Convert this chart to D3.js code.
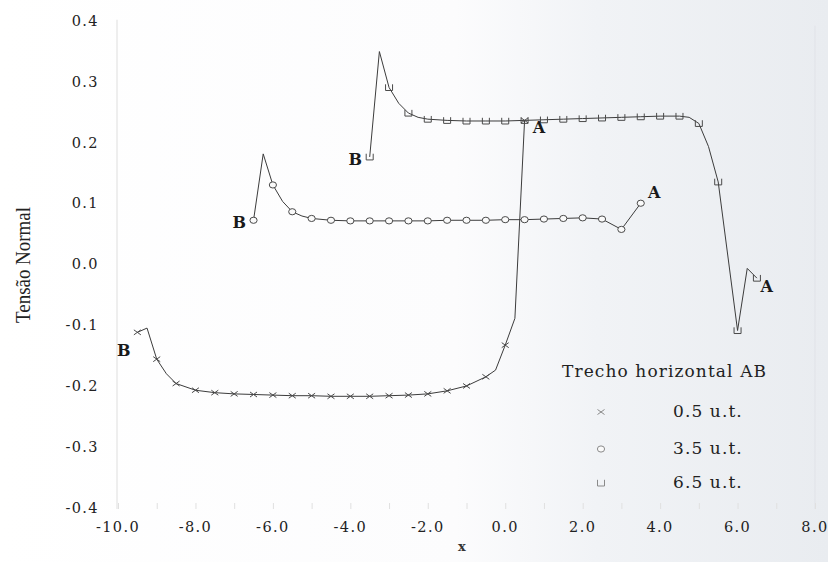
<!DOCTYPE html>
<html>
<head>
<meta charset="utf-8">
<script src="https://cdnjs.cloudflare.com/ajax/libs/d3/7.8.5/d3.min.js"></script>
<style>
  html, body { margin: 0; padding: 0; background: #ffffff; }
  svg { display: block; }
</style>
</head>
<body>
<svg id="chart" width="828" height="562"></svg>
<script>
// Axis ticks
const xTicks = [-10, -8, -6, -4, -2, 0, 2, 4, 6, 8];
const yTicks = [-0.4, -0.3, -0.2, -0.1, 0.0, 0.1, 0.2, 0.3, 0.4];

// Trecho horizontal AB = 0.5 u.t.
const xs05 = [-9.5, -9.25, -9.0, -8.75, -8.5, -8.0, -7.5, -7.0, -6.5, -6.0, -5.5, -5.0, -4.5, -4.0, -3.5, -3.0, -2.5, -2.0, -1.5, -1.0, -0.5, -0.25, 0.0, 0.25, 0.5];
const ys05 = [-0.110, -0.103, -0.154, -0.178, -0.194, -0.205, -0.209, -0.211, -0.212, -0.213, -0.214, -0.214, -0.215, -0.215, -0.215, -0.214, -0.213, -0.211, -0.206, -0.198, -0.183, -0.172, -0.131, -0.087, 0.238];

// Trecho horizontal AB = 3.5 u.t.
const xs35 = [-6.5, -6.25, -6.0, -5.75, -5.5, -5.25, -5.0, -4.5, -4.0, -3.5, -3.0, -2.5, -2.0, -1.5, -1.0, -0.5, 0.0, 0.5, 1.0, 1.5, 2.0, 2.5, 3.0, 3.5];
const ys35 = [0.074, 0.183, 0.132, 0.105, 0.088, 0.081, 0.077, 0.074, 0.073, 0.073, 0.073, 0.073, 0.073, 0.074, 0.074, 0.074, 0.075, 0.075, 0.076, 0.077, 0.078, 0.076, 0.059, 0.102];

// Trecho horizontal AB = 6.5 u.t.
const xs65 = [-3.5, -3.25, -3.0, -2.75, -2.5, -2.25, -2.0, -1.5, -1.0, -0.5, 0.0, 0.5, 1.0, 1.5, 2.0, 2.5, 3.0, 3.5, 4.0, 4.5, 4.75, 5.0, 5.25, 5.5, 6.0, 6.25, 6.5];
const ys65 = [0.178, 0.351, 0.292, 0.266, 0.250, 0.243, 0.240, 0.238, 0.237, 0.237, 0.237, 0.238, 0.239, 0.240, 0.241, 0.242, 0.243, 0.244, 0.245, 0.245, 0.243, 0.233, 0.195, 0.137, -0.107, -0.005, -0.021];

const legendTitle = "Trecho horizontal AB";
const seriesNames = ["0.5 u.t.", "3.5 u.t.", "6.5 u.t."];
const markerKinds = ["cross", "circle", "cup"];

// End-point labels (letter, x, y in data units)
const endLabels = [
  { t: "B", x: -9.85, y: -0.142 },
  { t: "A", x: 0.87, y: 0.224 },
  { t: "B", x: -6.87, y: 0.068 },
  { t: "A", x: 3.85, y: 0.118 },
  { t: "B", x: -3.87, y: 0.172 },
  { t: "A", x: 6.75, y: -0.037 }
];

const svg = d3.select("#chart");
const W = 828, H = 562;

// Paper tone, slightly greyer towards the right
const defs = svg.append("defs");
const grad = defs.append("linearGradient").attr("id", "paper").attr("x1", "0").attr("x2", "1").attr("y1", "0").attr("y2", "0");
grad.append("stop").attr("offset", "0%").attr("stop-color", "#ffffff");
grad.append("stop").attr("offset", "55%").attr("stop-color", "#fcfcfd");
grad.append("stop").attr("offset", "72%").attr("stop-color", "#f1f3f6");
grad.append("stop").attr("offset", "100%").attr("stop-color", "#e9ecf0");
svg.append("rect").attr("width", W).attr("height", H).attr("fill", "url(#paper)");

const x = d3.scaleLinear().domain([-10, 8]).range([118, 815]);
const y = d3.scaleLinear().domain([-0.4, 0.4]).range([509, 21.7]);

const tickFont = "'DejaVu Serif', serif";
const inkColor = "#222222";

// Faint frame lines
svg.append("line").attr("x1", x(-10) - 1).attr("x2", x(-10) - 1).attr("y1", y(0.4) - 2).attr("y2", y(-0.4))
  .attr("stroke", "#e3e3e3").attr("stroke-width", 1.2);
svg.append("line").attr("x1", x(8)).attr("x2", x(8)).attr("y1", y(0.4) + 4).attr("y2", y(-0.4))
  .attr("stroke", "#e2e5ea").attr("stroke-width", 1.2);

// X axis (ticks every unit, labels every 2)
const xAxis = d3.axisBottom(x).tickValues(d3.range(-10, 9, 1)).tickSize(-6).tickFormat("");
const gx = svg.append("g").attr("transform", `translate(0,${y(-0.4)})`).call(xAxis);
gx.select(".domain").remove();
gx.selectAll(".tick line").attr("stroke", "#e0e0e0");

svg.append("g").selectAll("text").data(xTicks).join("text")
  .attr("x", d => x(d)).attr("y", 528)
  .attr("text-anchor", "middle").attr("dominant-baseline", "middle")
  .attr("font-family", tickFont).attr("font-size", 14.5).attr("letter-spacing", 1.4)
  .attr("fill", inkColor)
  .text(d => d3.format(".1f")(d).replace("−", "-"));

// Y axis labels
svg.append("g").selectAll("text").data(yTicks).join("text")
  .attr("x", 99).attr("y", d => y(d))
  .attr("text-anchor", "end").attr("dominant-baseline", "middle")
  .attr("font-family", tickFont).attr("font-size", 14.5).attr("letter-spacing", 1.4)
  .attr("fill", inkColor)
  .text(d => d3.format(".1f")(d).replace("−", "-"));

// Axis titles
svg.append("text").attr("transform", "translate(30,265) rotate(-90)")
  .attr("text-anchor", "middle")
  .attr("font-family", "'Liberation Serif', serif").attr("font-size", 20)
  .attr("textLength", 116).attr("lengthAdjust", "spacingAndGlyphs")
  .attr("fill", inkColor).text("Tensão Normal");

svg.append("text").attr("x", 462).attr("y", 551)
  .attr("text-anchor", "middle")
  .attr("font-family", tickFont).attr("font-size", 13).attr("font-weight", "bold")
  .attr("fill", "#333").text("x");

// Marker shapes
function markerPath(kind) {
  if (kind === "cross") return "M-3.5,-2.5L3.5,2.5M-3.5,2.5L3.5,-2.5";
  if (kind === "cup") return "M-3.5,-3.2V3H3.5V-3.2";
  return null;
}

function drawMarker(g, kind, cx, cy, color) {
  if (kind === "circle") {
    g.append("ellipse").attr("cx", cx).attr("cy", cy).attr("rx", 3.6).attr("ry", 3.1)
      .attr("fill", "#fafafa").attr("stroke", color).attr("stroke-width", 1);
  } else {
    g.append("path").attr("transform", `translate(${cx},${cy})`).attr("d", markerPath(kind))
      .attr("fill", "none").attr("stroke", color).attr("stroke-width", 1);
  }
}

const series = [
  { xs: xs05, ys: ys05, kind: markerKinds[0] },
  { xs: xs35, ys: ys35, kind: markerKinds[1] },
  { xs: xs65, ys: ys65, kind: markerKinds[2] }
];

const line = d3.line().x(d => x(d[0])).y(d => y(d[1]));
const plot = svg.append("g");

series.forEach(s => {
  const pts = s.xs.map((v, i) => [v, s.ys[i]]);
  plot.append("path").datum(pts).attr("d", line)
    .attr("fill", "none").attr("stroke", "#3c3c3c").attr("stroke-width", 1)
    .attr("stroke-linejoin", "round");
});

// Markers sit on the half-unit stations
series.forEach(s => {
  const g = plot.append("g");
  s.xs.forEach((v, i) => {
    if (Math.abs(v * 2 - Math.round(v * 2)) < 1e-9) {
      drawMarker(g, s.kind, x(v), y(s.ys[i]), "#4a4a4a");
    }
  });
});

// End labels A / B
svg.append("g").selectAll("text").data(endLabels).join("text")
  .attr("x", d => x(d.x)).attr("y", d => y(d.y))
  .attr("text-anchor", "middle").attr("dominant-baseline", "middle")
  .attr("font-family", tickFont).attr("font-weight", "bold").attr("font-size", 16)
  .attr("fill", "#1a1a1a").text(d => d.t);

// Legend
const lg = svg.append("g");
lg.append("text").attr("x", 562).attr("y", 372)
  .attr("dominant-baseline", "middle")
  .attr("font-family", tickFont).attr("font-size", 17).attr("letter-spacing", 1.1)
  .attr("fill", inkColor).text(legendTitle);

const legendRows = [412, 449, 483];
seriesNames.forEach((name, i) => {
  drawMarker(lg, markerKinds[i], 601, legendRows[i], "#8a8a8a");
  lg.append("text").attr("x", 673).attr("y", legendRows[i])
    .attr("dominant-baseline", "middle")
    .attr("font-family", tickFont).attr("font-size", 17).attr("letter-spacing", 1.1)
    .attr("fill", inkColor).text(name);
});
</script>
</body>
</html>
